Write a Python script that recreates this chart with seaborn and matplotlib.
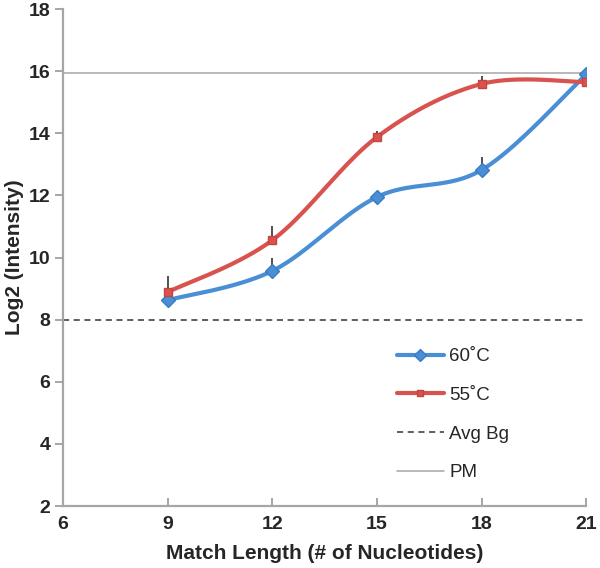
import numpy as np
import pandas as pd
import seaborn as sns
import matplotlib.pyplot as plt
from matplotlib.lines import Line2D

## values
match_len = [9, 12, 15, 18, 21]
int_60 = [8.63, 9.57, 11.95, 12.82, 15.90]
int_55 = [8.89, 10.56, 13.88, 15.59, 15.65]
err_60 = [0.0, 0.42, 0.0, 0.42, 0.0]
err_55 = [0.52, 0.45, 0.18, 0.25, 0.0]
avg_bg = 8.0
pm_level = 15.95

blue = '#4a8ed6'
red = '#d8534e'
grey = '#a6a6a6'


## excel style smoothed line (catmull-rom through the points)
def smooth(xs, ys, n=40):
    p = np.column_stack([xs, ys]).astype(float)
    p = np.vstack([p[0], p, p[-1]])
    out = []
    t = np.linspace(0, 1, n)[:, None]
    for i in range(1, len(p) - 2):
        p0, p1, p2, p3 = p[i - 1], p[i], p[i + 1], p[i + 2]
        seg = 0.5 * ((2 * p1) + (-p0 + p2) * t + (2 * p0 - 5 * p1 + 4 * p2 - p3) * t ** 2
                     + (-p0 + 3 * p1 - 3 * p2 + p3) * t ** 3)
        out.append(seg)
    out = np.vstack(out)
    return out[:, 0], out[:, 1]


sns.set_style('white')
plt.rcParams['font.family'] = ['Liberation Sans', 'DejaVu Sans']

fig = plt.figure(figsize=(6, 5.68), dpi=100)
ax = fig.add_axes([0.105, 0.109, 0.872, 0.875])

ax.axhline(pm_level, color=grey, lw=1.1, zorder=1)
ax.axhline(avg_bg, color='#333333', lw=1.1, ls=(0, (4, 3)), zorder=1)

sx, sy = smooth(match_len, int_60)
sns.lineplot(x=sx, y=sy, ax=ax, color=blue, lw=3, sort=False, zorder=3)
sx, sy = smooth(match_len, int_55)
sns.lineplot(x=sx, y=sy, ax=ax, color=red, lw=3, sort=False, zorder=3)

ax.errorbar(match_len, int_60, yerr=[np.zeros(5), err_60], fmt='none', ecolor='#222222', elinewidth=1.1, capsize=0, zorder=2)
ax.errorbar(match_len, int_55, yerr=[np.zeros(5), err_55], fmt='none', ecolor='#222222', elinewidth=1.1, capsize=0, zorder=2)

ax.plot(match_len, int_60, ls='none', marker='D', ms=7, mfc=blue, mec='#3a7cc4', zorder=4)
ax.plot(match_len, int_55, ls='none', marker='s', ms=6, mfc=red, mec='#c44440', zorder=4)

ax.set_xlim(6, 21)
ax.set_ylim(2, 18)
ax.set_xticks([6, 9, 12, 15, 18, 21])
ax.set_yticks(range(2, 19, 2))
for s in ['top', 'right']:
    ax.spines[s].set_visible(False)
for s in ['left', 'bottom']:
    ax.spines[s].set_color(grey)
    ax.spines[s].set_linewidth(1.6)
ax.tick_params(axis='y', direction='out', length=6, width=1.4, color=grey, labelsize=14, pad=3)
ax.tick_params(axis='x', direction='in', length=6, width=1.4, color=grey, labelsize=14, pad=7)
ax.tick_params(left=True, bottom=True)
for lab in ax.get_xticklabels() + ax.get_yticklabels():
    lab.set_fontweight('bold')

ax.set_xlabel('Match Length (# of Nucleotides)', fontsize=15, fontweight='bold', labelpad=8)
ax.set_ylabel('Log2 (Intensity)', fontsize=15, fontweight='bold')
ax.yaxis.set_label_coords(-0.074, 0.5)

handles = [
    Line2D([], [], color=blue, lw=3, marker='D', ms=6, mfc=blue, mec='#3a7cc4'),
    Line2D([], [], color=red, lw=3, marker='s', ms=5, mfc=red, mec='#c44440'),
    Line2D([], [], color='#333333', lw=1.1, ls=(0, (4, 3))),
    Line2D([], [], color=grey, lw=1.1),
]
ax.legend(handles, ['60˚C', '55˚C', 'Avg Bg', 'PM'], loc='lower left',
          bbox_to_anchor=(0.606, 0.016), frameon=False, fontsize=13.5,
          handlelength=2.5, handletextpad=0.3, labelspacing=1.15)

fig.savefig('out.png', dpi=100)
